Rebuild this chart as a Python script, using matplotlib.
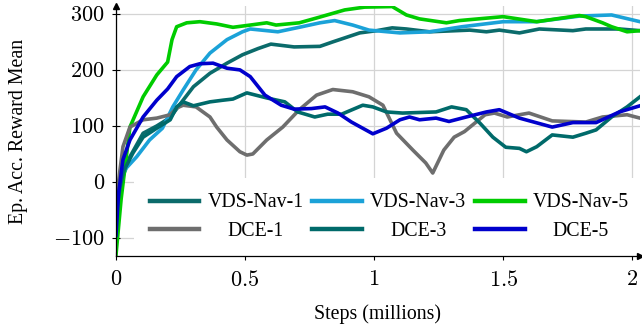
import matplotlib
matplotlib.use("Agg")
import matplotlib.pyplot as plt
from matplotlib.ticker import FuncFormatter
from matplotlib.transforms import Affine2D

plt.rcParams["mathtext.fontset"] = "cm"
plt.rcParams["font.family"] = ["Liberation Serif", "DejaVu Serif"]

# training curves, steps in millions
vds1_x = [0, 0.015, 0.03, 0.054, 0.105, 0.158, 0.21, 0.25, 0.3, 0.364, 0.43, 0.49, 0.55, 0.6, 0.69,
          0.79, 0.84, 0.944, 1.01, 1.07, 1.125, 1.215, 1.37, 1.435, 1.485, 1.563, 1.64, 1.77, 1.82, 1.95, 2.03]
vds1_y = [-80, -20, 15, 45, 87, 100, 115, 140, 170, 194, 212, 227, 238, 246, 241,
          242, 250, 266, 270, 275, 273, 268, 271, 268, 271, 266, 273, 270, 273, 273, 270]

vds3_x = [0, 0.015, 0.04, 0.08, 0.13, 0.18, 0.22, 0.26, 0.31, 0.364, 0.43, 0.49, 0.52, 0.627,
          0.72, 0.79, 0.847, 0.917, 0.98, 1.1, 1.215, 1.34, 1.5, 1.63, 1.795, 1.92, 2.03]
vds3_y = [-20, 0, 25, 45, 75, 96, 134, 164, 200, 230, 254, 268, 273, 268,
          277, 284, 288, 280, 271, 266, 268, 277, 286, 286, 296, 298, 286]

vds5_x = [0, 0.02, 0.054, 0.105, 0.158, 0.2, 0.217, 0.235, 0.274, 0.325, 0.39, 0.453, 0.52, 0.584,
          0.62, 0.71, 0.78, 0.886, 0.963, 1.07, 1.125, 1.176, 1.28, 1.33, 1.5, 1.63, 1.69, 1.795,
          1.82, 1.885, 1.92, 1.98, 2.03]
vds5_y = [-130, -30, 98, 152, 191, 214, 254, 277, 284, 286, 282, 276, 280, 284,
          280, 284, 293, 307, 312, 313, 298, 291, 284, 288, 295, 286, 290, 297,
          295, 284, 277, 268, 270]

dce1_x = [0, 0.015, 0.027, 0.054, 0.105, 0.158, 0.21, 0.235, 0.26, 0.31, 0.364, 0.39, 0.43, 0.48,
          0.507, 0.53, 0.584, 0.646, 0.71, 0.777, 0.84, 0.917, 0.98, 1.034, 1.087, 1.15, 1.2,
          1.227, 1.27, 1.31, 1.35, 1.39, 1.43, 1.466, 1.516, 1.563, 1.6, 1.69, 1.82, 1.885,
          1.98, 2.03]
dce1_y = [-40, 20, 63, 98, 111, 114, 120, 132, 137, 134, 116, 98, 75, 54,
          48, 50, 75, 98, 129, 155, 165, 161, 152, 137, 87, 57, 34,
          16, 57, 80, 90, 105, 120, 123, 116, 120, 123, 109, 107, 116,
          120, 114]

dce3_x = [0, 0.015, 0.03, 0.066, 0.105, 0.158, 0.21, 0.235, 0.26, 0.3, 0.364, 0.415, 0.453, 0.507,
          0.584, 0.654, 0.704, 0.77, 0.82, 0.874, 0.956, 0.995, 1.048, 1.11, 1.24, 1.3, 1.357,
          1.41, 1.46, 1.51, 1.563, 1.59, 1.63, 1.69, 1.77, 1.82, 1.86, 1.92, 1.98, 2.03]
dce3_y = [-60, -10, 20, 52, 80, 96, 111, 134, 143, 136, 143, 146, 148, 159,
          150, 143, 125, 116, 121, 121, 137, 134, 125, 123, 125, 134, 129,
          105, 80, 62, 60, 54, 63, 84, 80, 87, 93, 116, 134, 152]

dce5_x = [0, 0.01, 0.027, 0.054, 0.105, 0.158, 0.2, 0.235, 0.286, 0.325, 0.376, 0.43, 0.48, 0.52,
          0.577, 0.64, 0.69, 0.757, 0.81, 0.86, 0.912, 0.995, 1.048, 1.1, 1.137, 1.176, 1.24,
          1.29, 1.357, 1.435, 1.485, 1.563, 1.69, 1.77, 1.86, 1.95, 2.03]
dce5_y = [-95, -20, 40, 75, 116, 146, 166, 188, 206, 211, 212, 203, 200, 188,
          155, 137, 130, 131, 134, 123, 107, 86, 96, 111, 116, 111, 114,
          108, 116, 125, 129, 114, 98, 106, 106, 125, 136]

series = [
    ("VDS-Nav-1", vds1_x, vds1_y, "#0b6b6b"),
    ("VDS-Nav-3", vds3_x, vds3_y, "#1ba2d8"),
    ("VDS-Nav-5", vds5_x, vds5_y, "#00cc00"),
    ("DCE-1", dce1_x, dce1_y, "#6e6e6e"),
    ("DCE-3", dce3_x, dce3_y, "#006a6a"),
    ("DCE-5", dce5_x, dce5_y, "#0000cc"),
]

x_ticks = [0, 0.5, 1, 1.5, 2]
y_ticks = [-100, 0, 100, 200, 300]

fig = plt.figure(figsize=(6.42, 3.26), dpi=100)
ax = fig.add_axes([116 / 642, 70 / 326, 524 / 642, 250 / 326])

lines = {}
for name, xs, ys, col in series:
    (ln,) = ax.plot(xs, ys, color=col, lw=2.6, solid_joinstyle="round", label=name)
    lines[name] = ln

ax.set_xlim(0, 2.03)
ax.set_ylim(-132, 314)
ax.set_xticks(x_ticks)
ax.set_yticks(y_ticks)
ax.xaxis.set_major_formatter(FuncFormatter(lambda v, p: "$%g$" % v))
ax.yaxis.set_major_formatter(FuncFormatter(lambda v, p: "$%d$" % v))
ax.tick_params(direction="inout", length=6, width=0.8, labelsize=16, pad=5)
ax.tick_params(axis="x", pad=8)
ax.grid(True, color="#d4d4d4", lw=0.9)
ax.set_axisbelow(True)

for side in ["top", "right"]:
    ax.spines[side].set_visible(False)
for side in ["left", "bottom"]:
    ax.spines[side].set_linewidth(0.9)
    ax.spines[side].set_zorder(6)
ax.plot(1, 0, ">", color="black", ms=5, transform=ax.transAxes, clip_on=False, zorder=6)
ax.plot(0, 1, "^", color="black", ms=5, transform=ax.transAxes, clip_on=False, zorder=6)

ax.set_xlabel("Steps (millions)", fontsize=14.3, labelpad=9)
ax.set_ylabel("Ep. Acc. Reward Mean", fontsize=14.3, labelpad=18)

order = ["VDS-Nav-1", "DCE-1", "VDS-Nav-3", "DCE-3", "VDS-Nav-5", "DCE-5"]
leg = ax.legend([lines[n] for n in order], order, ncol=3, loc="upper left",
                bbox_to_anchor=(0.035, 0.312), fontsize=14.3, frameon=True,
                facecolor="white", edgecolor="none", framealpha=1, fancybox=False,
                handlelength=2.5, handletextpad=0.4, columnspacing=0.45,
                labelspacing=0.5, borderpad=0.78, borderaxespad=0)
for lh in leg.get_lines():
    lh.set_linewidth(3.2)

# centre the lower legend labels under the upper ones
fig.canvas.draw()
rend = fig.canvas.get_renderer()
texts = leg.get_texts()
for top, bot in zip(texts[0::2], texts[1::2]):
    dw = top.get_window_extent(rend).width - bot.get_window_extent(rend).width
    bot.set_transform(bot.get_transform() + Affine2D().translate(dw / 2, 0))

fig.savefig("out.png", dpi=100)
